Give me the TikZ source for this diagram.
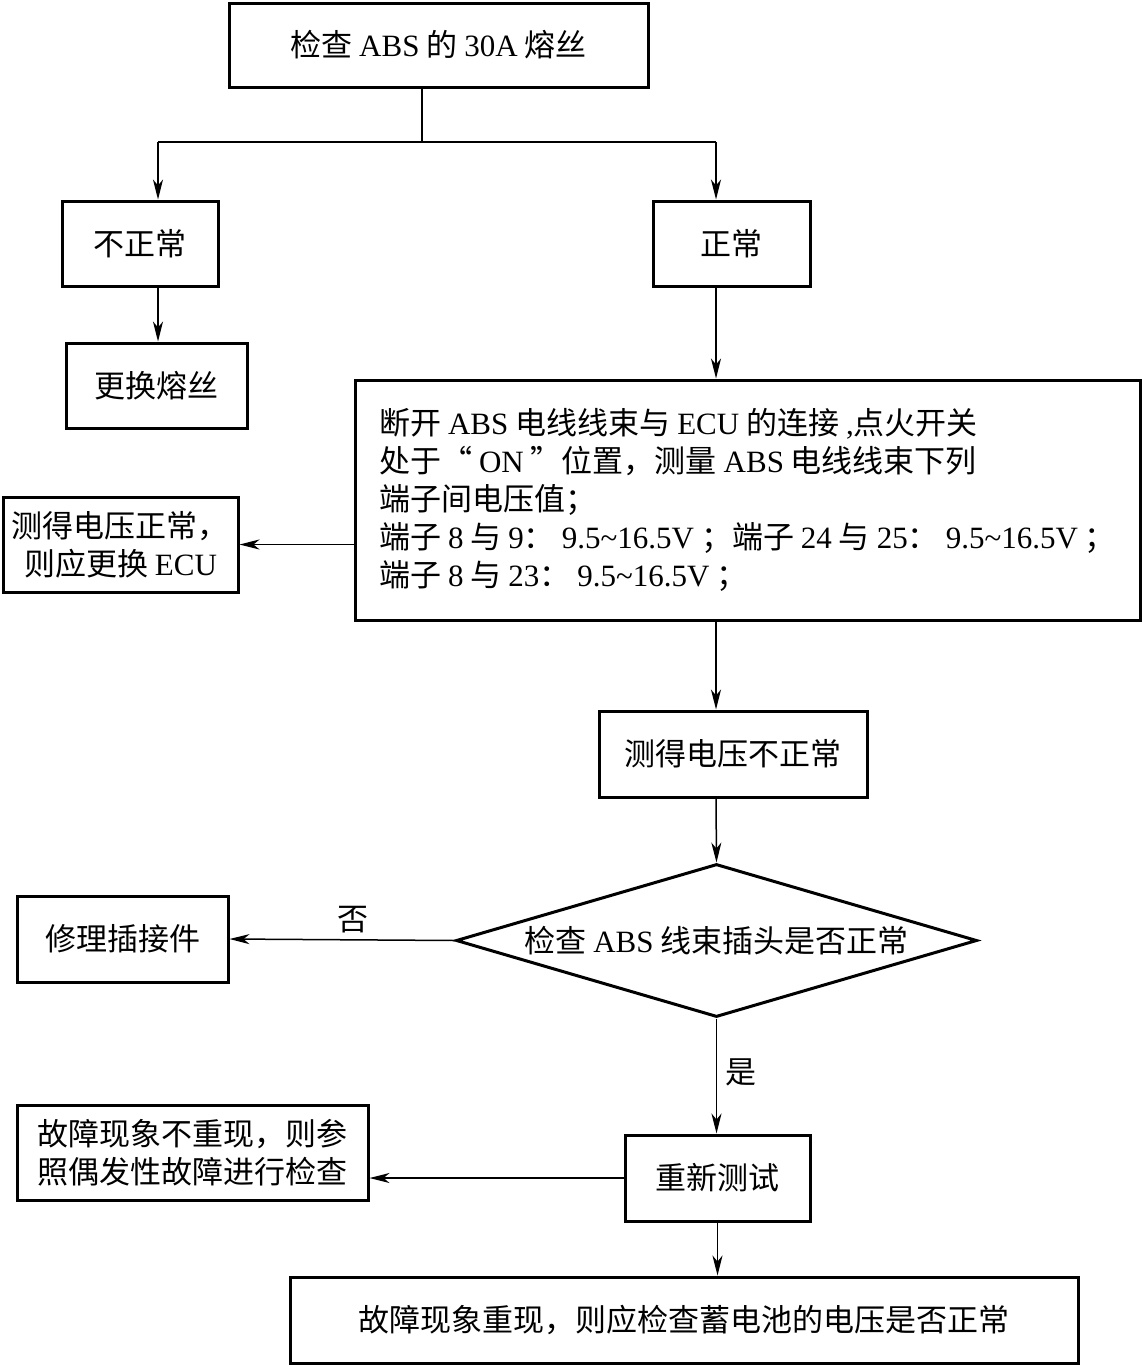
\documentclass[tikz,border=0pt]{standalone}
\usepackage{fontspec}
\setmainfont{Noto Sans CJK SC}
\newfontfamily\latf{Liberation Serif}
\newcommand\ltn[1]{{\latf #1}}
\usetikzlibrary{shapes.geometric,arrows.meta}
\begin{document}
\begin{tikzpicture}[x=1pt,y=-1pt,
  box/.style={draw, line width=3pt, inner sep=0pt, align=center,
    font=\fontsize{31}{38}\selectfont},
  dia/.style={draw, diamond, line width=3pt, inner sep=0pt, align=center,
    font=\fontsize{31}{38}\selectfont},
  arr/.style={line width=1.5pt, -{Stealth[length=20pt,width=10pt,inset=6pt]}},
  ln/.style={line width=1.5pt},
  lbl/.style={font=\fontsize{31}{38}\selectfont, inner sep=0pt}]
\useasboundingbox (0,0) rectangle (1142,1365);
\fill[white] (0,0) rectangle (1142,1365);

\node[box, minimum width=419, minimum height=84] (b1) at (438.5,45)
  {检查 \ltn{ABS} 的 \ltn{30A} 熔丝};
\node[box, minimum width=156, minimum height=85] (bad) at (140,243.5) {不正常};
\node[box, minimum width=157, minimum height=85] (ok) at (731.5,243.5) {正常};
\node[box, minimum width=181, minimum height=85] (fuse) at (156.5,385.5) {更换熔丝};
\node[box, align=left, minimum width=785, minimum height=240] (big) at (747.5,500)
  {断开 \ltn{ABS} 电线线束与 \ltn{ECU} 的连接 \ltn{,}点火开关\\
   处于“ \ltn{ON} ”位置，测量 \ltn{ABS} 电线线束下列\\
   端子间电压值；\\
   端子 \ltn{8} 与 \ltn{9}： \ltn{9.5\textasciitilde16.5V} ；端子 \ltn{24} 与 \ltn{25}： \ltn{9.5\textasciitilde16.5V} ；\\
   端子 \ltn{8} 与 \ltn{23}： \ltn{9.5\textasciitilde16.5V} ；};
\node[box, minimum width=235, minimum height=95] (ecu) at (120.5,544.5)
  {测得电压正常，\\则应更换 \ltn{ECU}};
\node[box, minimum width=268, minimum height=86] (vbad) at (733,754) {测得电压不正常};
\node[dia, minimum width=521, minimum height=153, shape aspect=3.4] (chk) at (716.5,940.5)
  {检查 \ltn{ABS} 线束插头是否正常};
\node[box, minimum width=211, minimum height=86] (repair) at (122.5,939) {修理插接件};
\node[box, minimum width=185, minimum height=86] (retest) at (717.5,1178) {重新测试};
\node[box, minimum width=351, minimum height=95] (interm) at (192.5,1152.5)
  {故障现象不重现，则参\\照偶发性故障进行检查};
\node[box, minimum width=788, minimum height=86] (batt) at (684,1320)
  {故障现象重现，则应检查蓄电池的电压是否正常};

\coordinate (j) at (422,142);
\coordinate (jl) at (158,142);
\coordinate (jr) at (716,142);
\draw[ln] (b1.south -| j) -- (j);
\draw[ln] (jl) -- (jr);
\draw[arr] (jl) -- (jl |- bad.north);
\draw[arr] (jr) -- (jr |- ok.north);
\draw[arr] (bad.south -| jl) -- (fuse.north -| jl);
\draw[arr] (ok.south -| jr) -- (big.north -| jr);
\draw[arr] (big.west |- ecu.east) -- (ecu.east);
\draw[arr] (big.south -| jr) -- (vbad.north -| jr);
\draw[arr] (vbad.south -| jr) -- (chk.north);
\draw[arr] (chk.west) -- (repair.east) node[lbl, pos=0.45, above=6pt] (no) {否};
\draw[arr] (chk.south) -- (retest.north -| chk.south) node[lbl, pos=0.47, right=8pt] (yes) {是};
\draw[arr] (retest.west) -- (interm.east |- retest.west);
\draw[arr] (retest.south) -- (batt.north -| retest.south);
\end{tikzpicture}
\end{document}
